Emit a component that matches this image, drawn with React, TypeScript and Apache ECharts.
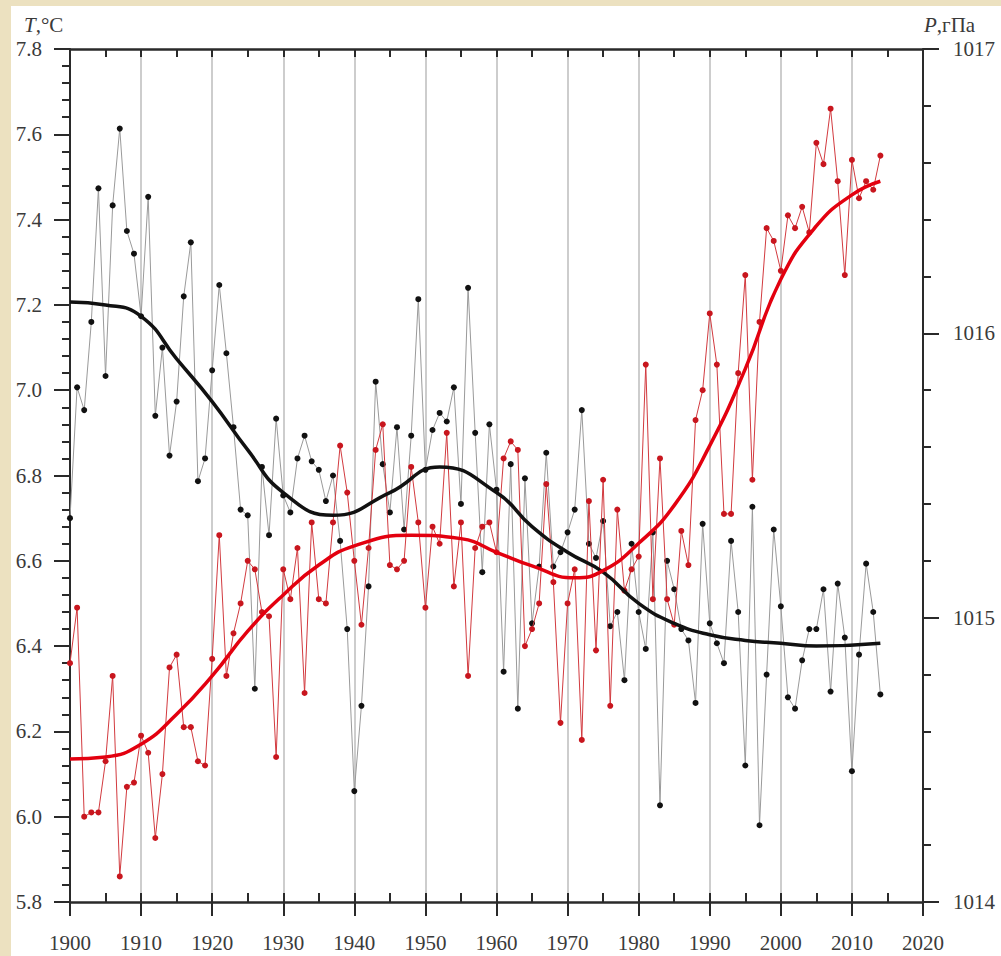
import React, { useEffect, useRef } from "react";
import * as echarts from "echarts";

const START_YEAR = 1900;
// Annual mean air temperature, °C (red)
const tempValues = [
  6.36, 6.49, 6.0, 6.01, 6.01, 6.13, 6.33, 5.86, 6.07, 6.08,
  6.19, 6.15, 5.95, 6.1, 6.35, 6.38, 6.21, 6.21, 6.13, 6.12,
  6.37, 6.66, 6.33, 6.43, 6.5, 6.6, 6.58, 6.48, 6.47, 6.14,
  6.58, 6.51, 6.63, 6.29, 6.69, 6.51, 6.5, 6.69, 6.87, 6.76,
  6.6, 6.45, 6.63, 6.86, 6.92, 6.59, 6.58, 6.6, 6.82, 6.69,
  6.49, 6.68, 6.64, 6.9, 6.54, 6.69, 6.33, 6.63, 6.68, 6.69,
  6.62, 6.84, 6.88, 6.86, 6.4, 6.44, 6.5, 6.78, 6.55, 6.22,
  6.5, 6.58, 6.18, 6.74, 6.39, 6.79, 6.26, 6.72, 6.53, 6.58,
  6.61, 7.06, 6.51, 6.84, 6.51, 6.45, 6.67, 6.59, 6.93, 7.0,
  7.18, 7.06, 6.71, 6.71, 7.04, 7.27, 6.79, 7.16, 7.38, 7.35,
  7.28, 7.41, 7.38, 7.43, 7.37, 7.58, 7.53, 7.66, 7.49, 7.27,
  7.54, 7.45, 7.49, 7.47, 7.55,
];
// Annual mean sea-level pressure, hPa (black)
const presValues = [
  1015.35, 1015.81, 1015.73, 1016.04, 1016.51, 1015.85, 1016.45, 1016.72, 1016.36, 1016.28,
  1016.06, 1016.48, 1015.71, 1015.95, 1015.57, 1015.76, 1016.13, 1016.32, 1015.48, 1015.56,
  1015.87, 1016.17, 1015.93, 1015.67, 1015.38, 1015.36, 1014.75, 1015.53, 1015.29, 1015.7,
  1015.43, 1015.37, 1015.56, 1015.64, 1015.55, 1015.52, 1015.41, 1015.5, 1015.27, 1014.96,
  1014.39, 1014.69, 1015.11, 1015.83, 1015.54, 1015.37, 1015.67, 1015.31, 1015.64, 1016.12,
  1015.52, 1015.66, 1015.72, 1015.69, 1015.81, 1015.4, 1016.16, 1015.65, 1015.16, 1015.68,
  1015.45, 1014.81, 1015.54, 1014.68, 1015.49, 1014.98, 1015.18, 1015.58, 1015.18, 1015.23,
  1015.3, 1015.38, 1015.73, 1015.26, 1015.21, 1015.34, 1014.97, 1015.02, 1014.78, 1015.26,
  1015.02, 1014.89, 1015.3, 1014.34, 1015.2, 1015.1, 1014.96, 1014.92, 1014.7, 1015.33,
  1014.98, 1014.91, 1014.84, 1015.27, 1015.02, 1014.48, 1015.39, 1014.27, 1014.8, 1015.31,
  1015.04, 1014.72, 1014.68, 1014.85, 1014.96, 1014.96, 1015.1, 1014.74, 1015.12, 1014.93,
  1014.46, 1014.87, 1015.19, 1015.02, 1014.73,
];
// Smoothed curves (samples read at regular years and at the extrema)
const tempSmoothYears = [1900, 1905, 1910, 1915, 1920, 1925, 1930, 1935, 1940, 1948, 1955, 1960, 1965, 1971, 1975, 1980, 1985, 1990, 1995, 2000, 2005, 2010, 2014];
const tempSmooth = [6.135, 6.14, 6.17, 6.24, 6.33, 6.435, 6.52, 6.59, 6.635, 6.66, 6.652, 6.62, 6.588, 6.56, 6.577, 6.641, 6.73, 6.87, 7.05, 7.26, 7.385, 7.458, 7.49];
const presSmoothYears = [1900, 1905, 1910, 1915, 1920, 1925, 1930, 1937, 1945, 1952, 1960, 1965, 1970, 1975, 1980, 1985, 1990, 1995, 2000, 2005, 2014];
const presSmooth = [1016.11, 1016.1, 1016.06, 1015.91, 1015.76, 1015.59, 1015.44, 1015.36, 1015.44, 1015.53, 1015.44, 1015.32, 1015.23, 1015.16, 1015.05, 1014.98, 1014.94, 1014.92, 1014.91, 1014.9, 1014.91];

const X_MIN = 1900, X_MAX = 2020, X_STEP = 10;
const T_MIN = 5.8, T_MAX = 7.8, T_STEP = 0.2;
const P_MIN = 1014, P_MAX = 1017, P_STEP = 1;

const FONT = "Liberation Serif";
const TXT = "#3a3a3a";
const AX = "#2a2a2a";
const FS = 21;

export default function App() {
  const ref = useRef<HTMLDivElement>(null);
  useEffect(() => {
    if (!ref.current) return;
    const chart = echarts.init(ref.current, null, { renderer: "svg" });
    const tempData = tempValues.map((v, i) => [START_YEAR + i, v]);
    const presData = presValues.map((v, i) => [START_YEAR + i, v]);
    const tSm = tempSmoothYears.map((y, i) => [y, tempSmooth[i]]);
    const pSm = presSmoothYears.map((y, i) => [y, presSmooth[i]]);
    const labelStyle = { fontFamily: FONT, fontSize: FS, color: TXT };
    chart.setOption({
      animation: false,
      backgroundColor: "transparent",
      textStyle: { fontFamily: FONT },
      grid: { left: 70, right: 78, top: 49, bottom: 54 },
      graphic: [
        {
          type: "text",
          left: 24,
          top: 14,
          style: {
            text: "{i|T},°C",
            fill: TXT,
            fontSize: FS,
            fontFamily: FONT,
            rich: { i: { fontStyle: "italic", fontSize: FS, fontFamily: FONT, fill: TXT } },
          },
        },
        {
          type: "text",
          left: 924,
          top: 14,
          style: {
            text: "{i|P},гПа",
            fill: TXT,
            fontSize: FS,
            fontFamily: FONT,
            rich: { i: { fontStyle: "italic", fontSize: FS, fontFamily: FONT, fill: TXT } },
          },
        },
      ],
      xAxis: [
        {
          type: "value",
          position: "bottom",
          min: X_MIN,
          max: X_MAX,
          interval: X_STEP,
          axisLine: { show: true, lineStyle: { color: AX, width: 2.5 } },
          axisTick: { show: true, inside: false, length: 14, lineStyle: { color: AX, width: 2 } },
          axisLabel: { ...labelStyle, margin: 30, formatter: (v: number) => String(v) },
          splitLine: { show: true, lineStyle: { color: "#bdbdbd", width: 1.5 } },
        },
        {
          type: "value",
          position: "bottom",
          min: X_MIN,
          max: X_MAX,
          interval: 5,
          axisLine: { show: false },
          axisTick: { show: true, inside: true, length: 9, lineStyle: { color: AX, width: 2 } },
          axisLabel: { show: false },
          splitLine: { show: false },
        },
        {
          type: "value",
          position: "top",
          min: X_MIN,
          max: X_MAX,
          interval: 5,
          axisLine: { show: true, lineStyle: { color: AX, width: 2.5 } },
          axisTick: { show: true, inside: true, length: 8, lineStyle: { color: AX, width: 2 } },
          axisLabel: { show: false },
          splitLine: { show: false },
        },
      ],
      yAxis: [
        {
          type: "value",
          position: "left",
          min: T_MIN,
          max: T_MAX,
          interval: T_STEP,
          axisLine: { show: true, lineStyle: { color: AX, width: 2 } },
          axisTick: { show: true, inside: false, length: 16, lineStyle: { color: AX, width: 2 } },
          minorTick: { show: true, splitNumber: 5, length: 8, lineStyle: { color: AX, width: 2 } },
          axisLabel: { ...labelStyle, margin: 28, formatter: (v: number) => v.toFixed(1) },
          splitLine: { show: false },
        },
        {
          type: "value",
          position: "right",
          min: P_MIN,
          max: P_MAX,
          interval: P_STEP,
          axisLine: { show: true, lineStyle: { color: AX, width: 2 } },
          axisTick: { show: true, inside: false, length: 16, lineStyle: { color: AX, width: 2 } },
          minorTick: { show: true, splitNumber: 5, length: 8, lineStyle: { color: AX, width: 2 } },
          axisLabel: { ...labelStyle, margin: 30, formatter: (v: number) => String(v) },
          splitLine: { show: false },
        },
      ],
      series: [
        {
          name: "P",
          type: "line",
          xAxisIndex: 0,
          yAxisIndex: 1,
          data: presData,
          symbol: "circle",
          symbolSize: 6,
          itemStyle: { color: "#111" },
          lineStyle: { color: "#9a9a9a", width: 1 },
          z: 2,
        },
        {
          name: "T",
          type: "line",
          xAxisIndex: 0,
          yAxisIndex: 0,
          data: tempData,
          symbol: "circle",
          symbolSize: 6,
          itemStyle: { color: "#c8161e" },
          lineStyle: { color: "#d23a3f", width: 1 },
          z: 3,
        },
        {
          name: "P smooth",
          type: "line",
          xAxisIndex: 0,
          yAxisIndex: 1,
          data: pSm,
          smooth: 0.5,
          symbol: "none",
          lineStyle: { color: "#111", width: 3.5 },
          z: 4,
        },
        {
          name: "T smooth",
          type: "line",
          xAxisIndex: 0,
          yAxisIndex: 0,
          data: tSm,
          smooth: 0.5,
          symbol: "none",
          lineStyle: { color: "#e3000f", width: 3.5 },
          z: 5,
        },
      ],
    });
    return () => chart.dispose();
  }, []);

  return (
    <div style={{ position: "fixed", left: 0, top: 0, width: 1001, height: 956, background: "#ece1c0", overflow: "hidden" }}>
      <div style={{ position: "absolute", left: 11, top: 6, width: 990, height: 950, background: "#ffffff" }} />
      <div ref={ref} style={{ position: "absolute", left: 0, top: 0, width: 1001, height: 956 }} />
    </div>
  );
}
